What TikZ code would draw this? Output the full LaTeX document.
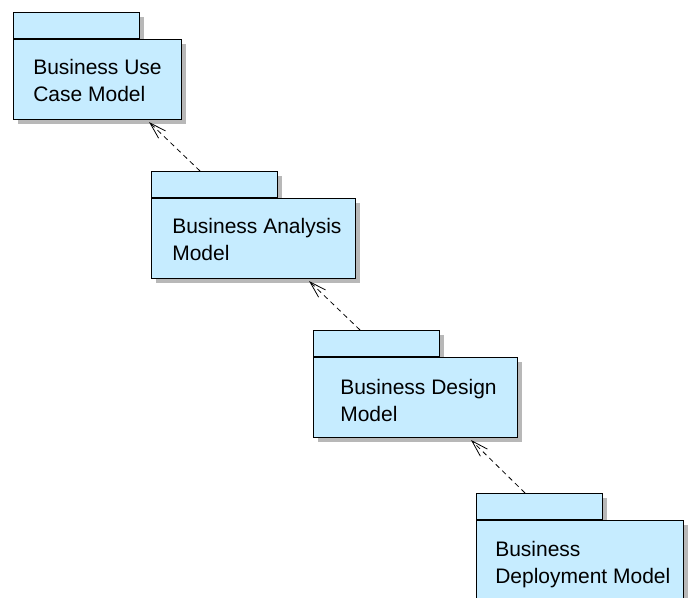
\documentclass[tikz,border=0pt]{standalone}
\usepackage{fontspec}
\setmainfont{Liberation Sans}
\usepackage{tikz}
\usetikzlibrary{arrows.meta, positioning, shadows}
\definecolor{pkgblue}{RGB}{198,236,255}

\begin{document}
\begin{tikzpicture}[
    x=0.75pt, y=-0.75pt,
    % Estilos de paquetes
    pkgtab/.style={rectangle, draw=black, line width=0.75pt, fill=pkgblue, inner sep=0pt, minimum width=94.5pt, minimum height=19.5pt, drop shadow={shadow xshift=3pt, shadow yshift=-3pt, fill=black!28, opacity=1}},
    pkgbody/.style={rectangle, draw=black, line width=0.75pt, fill=pkgblue, inner sep=0pt, minimum height=60pt, drop shadow={shadow xshift=3pt, shadow yshift=-3pt, fill=black!28, opacity=1}},
    pkgname/.style={anchor=north west, inner sep=0pt, align=left, font=\fontsize{15.75pt}{20.25pt}\selectfont},
    depends/.style={draw, line width=0.6pt, dash pattern=on 3.75pt off 3pt, -{Straight Barb[length=12.5pt, width=7.5pt]}}
]
\clip (0,0) rectangle (691,597);

% Paquete 1: casos de uso
\node[pkgtab, anchor=north west] (usecasetab) at (13,12) {};
\node[pkgbody, below=0pt of usecasetab.south west, anchor=north west, minimum width=126pt] (usecase) {};
\node[pkgname] (usecasename) at ([xshift=15pt, yshift=-15pt]usecase.north west) {Business Use\\Case Model};

% Paquete 2: analisis
\node[pkgtab, anchor=north west] (analysistab) at (151,171) {};
\node[pkgbody, below=0pt of analysistab.south west, anchor=north west, minimum width=153pt] (analysis) {};
\node[pkgname] (analysisname) at ([xshift=15.75pt, yshift=-15pt]analysis.north west) {Business Analysis\\Model};

% Paquete 3: diseno
\node[pkgtab, anchor=north west] (designtab) at (313,330) {};
\node[pkgbody, below=0pt of designtab.south west, anchor=north west, minimum width=153pt] (design) {};
\node[pkgname] (designname) at ([xshift=20.25pt, yshift=-16.5pt]design.north west) {Business Design\\Model};

% Paquete 4: despliegue
\node[pkgtab, anchor=north west] (deploytab) at (476,493) {};
\node[pkgbody, below=0pt of deploytab.south west, anchor=north west, minimum width=155.25pt] (deploy) {};
\node[pkgname] (deployname) at ([xshift=14.25pt, yshift=-15.75pt]deploy.north west) {Business\\Deployment Model};

% Dependencias
\draw[depends] ([xshift=36.75pt]analysistab.north west) -- ([xshift=-24.75pt, yshift=-1.5pt]usecase.south east);
\draw[depends] ([xshift=35.25pt]designtab.north west) -- ([xshift=-35.25pt, yshift=-1.5pt]analysis.south east);
\draw[depends] ([xshift=36.75pt]deploytab.north west) -- ([xshift=-35.25pt, yshift=-1.5pt]design.south east);

\end{tikzpicture}
\end{document}
